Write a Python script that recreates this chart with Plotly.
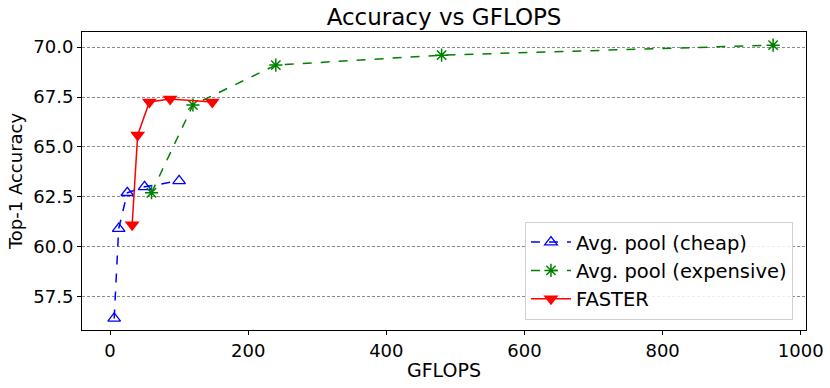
import plotly.graph_objs as go

cheap_x = [6, 12.5, 25, 50, 100]
cheap_y = [56.4, 60.9, 62.7, 63.0, 63.3]

exp_x = [60, 120, 240, 480, 960]
exp_y = [62.7, 67.1, 69.1, 69.6, 70.1]

faster_x = [32, 40, 57, 87, 148]
faster_y = [61.1, 65.6, 67.25, 67.4, 67.25]

fig = go.Figure()

fig.add_trace(go.Scatter(x=cheap_x, y=cheap_y, mode='lines+markers', name='Avg. pool (cheap)',
                         line=dict(color='blue', dash='dash', width=1.5),
                         marker=dict(symbol='triangle-up-open', size=11, color='blue', line=dict(width=1.3))))

fig.add_trace(go.Scatter(x=exp_x, y=exp_y, mode='lines+markers', name='Avg. pool (expensive)',
                         line=dict(color='green', dash='dash', width=1.5),
                         marker=dict(symbol='asterisk-open', size=11, color='green', line=dict(width=1.5, color='green'))))

fig.add_trace(go.Scatter(x=faster_x, y=faster_y, mode='lines+markers', name='FASTER',
                         line=dict(color='red', width=1.5),
                         marker=dict(symbol='triangle-down', size=13, color='red')))

fig.update_layout(width=830, height=388, plot_bgcolor='white', paper_bgcolor='white',
                  margin=dict(l=82, r=24, t=32, b=58),
                  font=dict(family='DejaVu Sans', size=18, color='black'),
                  title=dict(text='Accuracy vs GFLOPS', x=0.535, xanchor='center', y=0.957, yanchor='middle',
                             font=dict(size=23)),
                  legend=dict(x=0.982, y=0.034, xanchor='right', yanchor='bottom', bordercolor='#d0d0d0',
                              borderwidth=1, bgcolor='rgba(255,255,255,0.85)', font=dict(size=19.5),
                              tracegroupgap=0, itemwidth=40))

fig.update_xaxes(range=[-40.6, 1007.6], dtick=200, tick0=0, showgrid=False, zeroline=False,
                 showline=True, linecolor='black', linewidth=1, mirror=True, automargin=False,
                 ticks='outside', ticklen=4, tickcolor='black', tickfont=dict(size=18),
                 title=dict(text='GFLOPS', font=dict(size=19), standoff=4))

fig.update_yaxes(range=[55.82, 70.76], dtick=2.5, tick0=57.5, tickformat='.1f', zeroline=False,
                 showgrid=True, gridcolor='#8c8c8c', griddash='3px,2px', gridwidth=0.8,
                 showline=True, linecolor='black', linewidth=1, mirror=True, automargin=False,
                 ticks='outside', ticklen=4, tickcolor='black', tickfont=dict(size=18),
                 title=dict(text='Top-1 Accuracy', font=dict(size=18), standoff=6))

# page body has an 8px default margin; drop it so the figure sits at the corner
fig.write_html("out.html", config={'displayModeBar': False},
               post_script="document.body.style.margin='0';")
